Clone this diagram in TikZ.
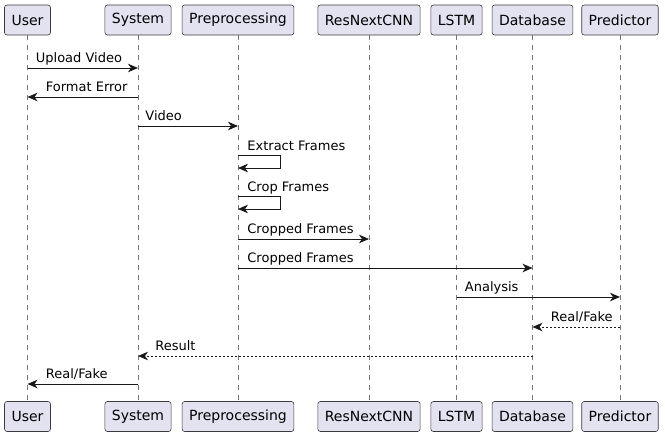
\documentclass[tikz,border=0pt]{standalone}
\usepackage{fontspec}
\setmainfont{DejaVu Sans}
\usetikzlibrary{arrows.meta}
\definecolor{partfill}{HTML}{E2E2F0}
\definecolor{umlline}{HTML}{181818}

\begin{document}
\begin{tikzpicture}[
  x=1pt, y=-1pt,
  participant/.style={
    draw=umlline!85,
    fill=partfill,
    rounded corners=2.5pt,
    line width=0.6pt,
    minimum height=30pt,
    inner xsep=7pt,
    font=\fontsize{14}{16}\selectfont
  },
  lifeline/.style={draw=umlline!60, line width=0.5pt, dash pattern=on 5pt off 5pt},
  msg/.style={-{Stealth[length=10pt,width=8.5pt,inset=3pt]}, draw=umlline, line width=0.8pt},
  reply/.style={msg, dash pattern=on 2pt off 2pt},
  lbl/.style={font=\fontsize{13}{15}\selectfont, inner sep=0pt, anchor=base west}
]
\useasboundingbox (0,0) rectangle (665,437);

% participants, top and bottom, with their lifelines
\foreach \name/\xpos/\txt in {user/27.5/User, system/138/System, prep/238/Preprocessing,
    cnn/369/ResNextCNN, lstm/456.5/LSTM, db/532.5/Database, pred/620/Predictor}{
  \node[participant] (\name) at (\xpos,20) {\txt};
  \node[participant] (\name-b) at (\xpos,416.5) {\txt};
  \draw[lifeline] (\name) -- (\name-b);
}

% messages
\draw[msg] (user |- 0,68) -- node[lbl, at start, xshift=8pt, yshift=6pt] {Upload Video} (system |- 0,68);
\draw[msg] (system |- 0,97) -- node[lbl, at end, xshift=18pt, yshift=6pt] {Format Error} (user |- 0,97);
\draw[msg] (system |- 0,126) -- node[lbl, at start, xshift=7pt, yshift=6pt] {Video} (prep |- 0,126);
\draw[msg] (prep |- 0,155) -- node[lbl, at start, xshift=9pt, yshift=5pt] {Extract Frames} ++(42,0) -- ++(0,13) -- (prep |- 0,168);
\draw[msg] (prep |- 0,196) -- node[lbl, at start, xshift=9pt, yshift=5pt] {Crop Frames} ++(42,0) -- ++(0,13) -- (prep |- 0,209);
\draw[msg] (prep |- 0,239) -- node[lbl, at start, xshift=9pt, yshift=6pt] {Cropped Frames} (cnn |- 0,239);
\draw[msg] (prep |- 0,268) -- node[lbl, at start, xshift=9pt, yshift=6pt] {Cropped Frames} (db |- 0,268);
\draw[msg] (lstm |- 0,297) -- node[lbl, at start, xshift=8pt, yshift=6pt] {Analysis} (pred |- 0,297);
\draw[reply] (pred |- 0,327) -- node[lbl, at end, xshift=18pt, yshift=6pt] {Real/Fake} (db |- 0,327);
\draw[reply] (db |- 0,356) -- node[lbl, at end, xshift=17pt, yshift=6pt] {Result} (system |- 0,356);
\draw[msg] (system |- 0,384) -- node[lbl, at end, xshift=18pt, yshift=6pt] {Real/Fake} (user |- 0,384);
\end{tikzpicture}
\end{document}
